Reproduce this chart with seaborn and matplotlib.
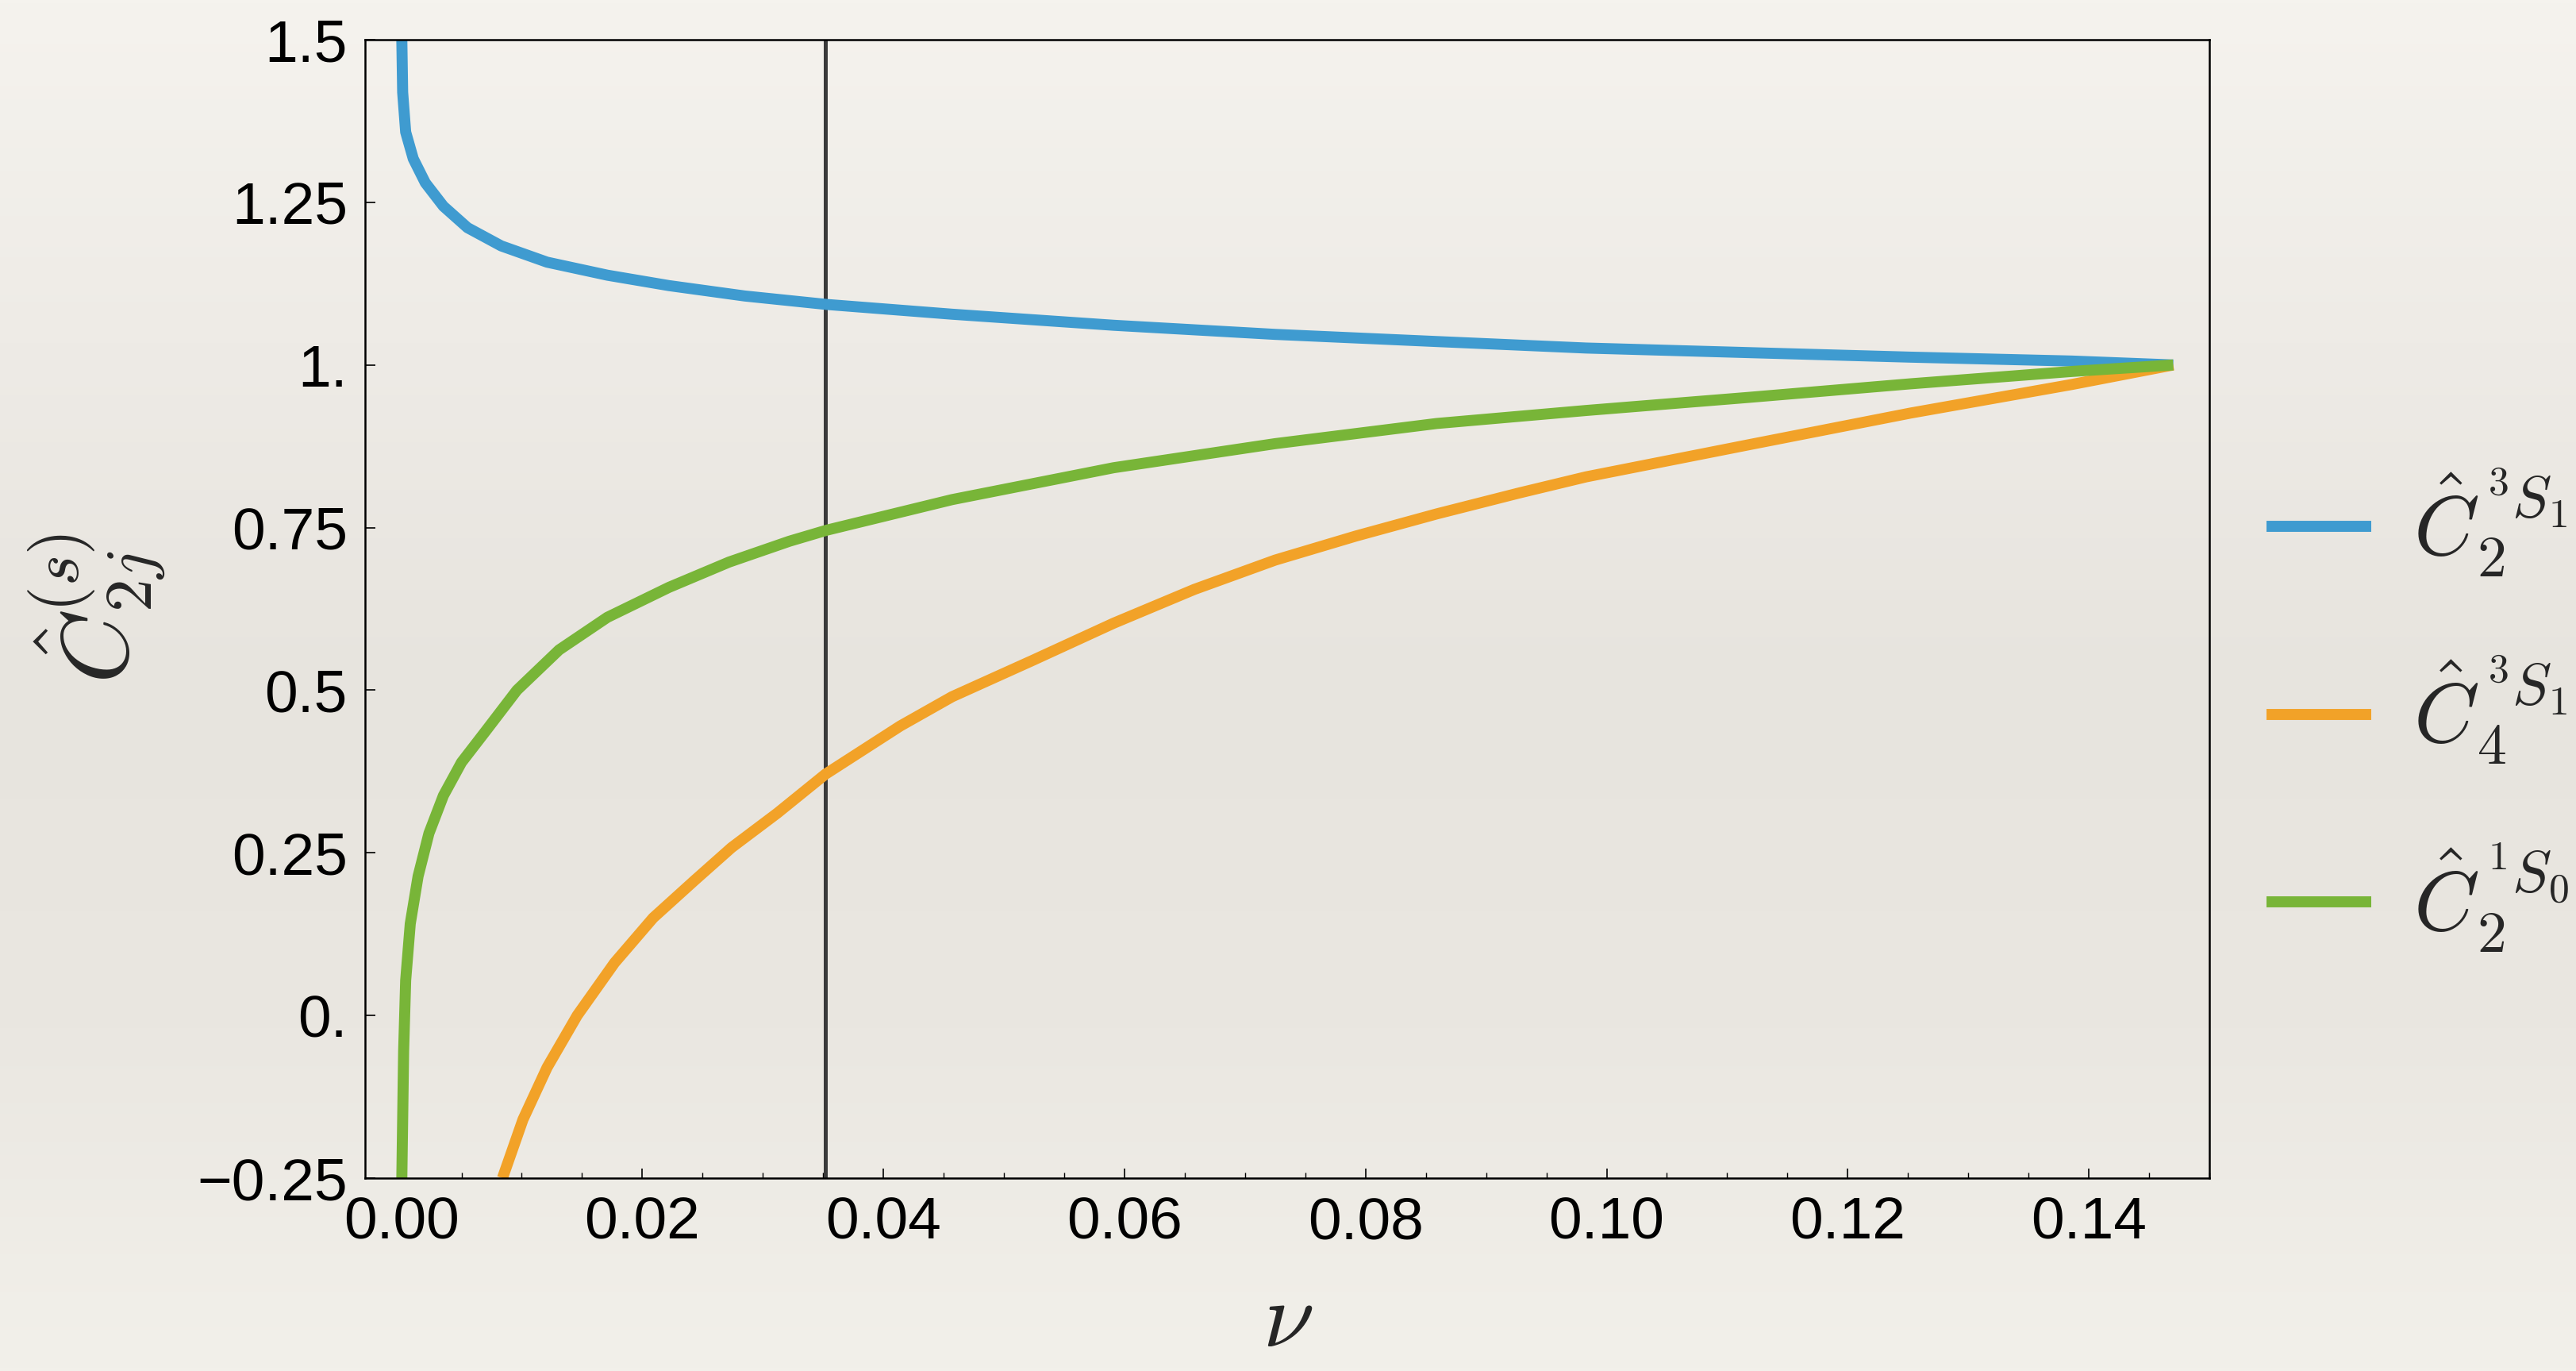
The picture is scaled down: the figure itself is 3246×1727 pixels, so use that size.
import numpy as np
import pandas as pd
import matplotlib
matplotlib.use("Agg")
import matplotlib.pyplot as plt
import seaborn as sns
from matplotlib.ticker import FixedLocator, FixedFormatter, MultipleLocator

# ---------------- data ----------------
series_names = [r"$\hat{C}_2^{\,{}^3S_1}$", r"$\hat{C}_4^{\,{}^3S_1}$", r"$\hat{C}_2^{\,{}^1S_0}$"]
series_colors = ["#3f9bd0", "#f2a228", "#78b538"]

blue_x = [0.00005, 0.00012, 0.00037, 0.0010, 0.0020, 0.0035, 0.0055, 0.0083, 0.0121, 0.0171,
          0.0222, 0.0285, 0.0353, 0.0457, 0.0591, 0.0725, 0.0859, 0.0983, 0.1117, 0.1252,
          0.1386, 0.147]
blue_y = [1.50, 1.419, 1.358, 1.317, 1.280, 1.244, 1.211, 1.183, 1.158, 1.138,
          1.122, 1.106, 1.093, 1.078, 1.061, 1.047, 1.036, 1.026, 1.019, 1.012,
          1.006, 1.0]

orange_x = [0.0084, 0.0101, 0.0121, 0.0146, 0.0177, 0.0209, 0.0243, 0.0274, 0.0312, 0.0352,
            0.0414, 0.0457, 0.0524, 0.0591, 0.0658, 0.0725, 0.0792, 0.0859, 0.0927, 0.0983,
            0.1117, 0.1252, 0.1386, 0.147]
orange_y = [-0.25, -0.160, -0.080, 0.000, 0.081, 0.150, 0.207, 0.258, 0.311, 0.371,
            0.445, 0.490, 0.546, 0.603, 0.655, 0.700, 0.737, 0.771, 0.803, 0.828,
            0.877, 0.926, 0.970, 1.0]

green_x = [0.00005, 0.0002, 0.00037, 0.00075, 0.0014, 0.0023, 0.0035, 0.0050, 0.0070, 0.0096,
           0.0131, 0.0171, 0.0222, 0.0272, 0.0322, 0.0353, 0.0457, 0.0591, 0.0725, 0.0859,
           0.0983, 0.1117, 0.1252, 0.1386, 0.147]
green_y = [-0.25, -0.055, 0.054, 0.141, 0.214, 0.280, 0.338, 0.389, 0.437, 0.500,
           0.562, 0.612, 0.658, 0.697, 0.729, 0.746, 0.793, 0.842, 0.879, 0.910,
           0.930, 0.950, 0.971, 0.990, 1.0]

vline_x = 0.0352

x_ticks = [0.00, 0.02, 0.04, 0.06, 0.08, 0.10, 0.12, 0.14]
x_ticklabels = ["0.00", "0.02", "0.04", "0.06", "0.08", "0.10", "0.12", "0.14"]
y_ticks = [-0.25, 0.0, 0.25, 0.5, 0.75, 1.0, 1.25, 1.5]
y_ticklabels = ["\u22120.25", "0.", "0.25", "0.5", "0.75", "1.", "1.25", "1.5"]

x_label = r"$\nu$"
y_label = r"$\hat{C}^{(s)}_{2j}$"

# ---------------- figure ----------------
sns.set_style("ticks")
plt.rcParams["font.family"] = ["Liberation Sans", "DejaVu Sans"]
plt.rcParams["mathtext.fontset"] = "cm"

W, H, DPI = 3246, 1727, 200
fig = plt.figure(figsize=(W / DPI, H / DPI), dpi=DPI)

# paper-like background gradient
bg = fig.add_axes([0, 0, 1, 1], zorder=-10)
stops = np.array([[245, 243, 238], [238, 235, 230], [231, 228, 222], [234, 231, 225], [242, 240, 234]]) / 255.0
t = np.linspace(0, 1, 400)
pos = np.linspace(0, 1, len(stops))
grad = np.stack([np.interp(t, pos, stops[:, c]) for c in range(3)], axis=-1)[:, None, :]
bg.imshow(grad, aspect="auto", extent=[0, 1, 0, 1], origin="upper")
bg.set_axis_off()

ax = fig.add_axes([460 / W, 1 - 1484 / H, (2784 - 460) / W, (1484 - 50) / H])
ax.patch.set_alpha(0)

df = pd.concat([
    pd.DataFrame({"nu": blue_x, "C": blue_y, "series": series_names[0]}),
    pd.DataFrame({"nu": orange_x, "C": orange_y, "series": series_names[1]}),
    pd.DataFrame({"nu": green_x, "C": green_y, "series": series_names[2]}),
], ignore_index=True)

sns.lineplot(data=df, x="nu", y="C", hue="series", hue_order=series_names,
             palette=dict(zip(series_names, series_colors)), estimator=None,
             linewidth=5.0, legend=False, ax=ax)
curve_lines = list(ax.get_lines())[:3]
for ln in curve_lines:
    ln.set_linewidth(5.0)
    ln.set_solid_capstyle("butt")
    ln.set_solid_joinstyle("round")

ax.axvline(vline_x, color="#3a3a3a", linewidth=1.8, zorder=1)

ax.set_xlim(-0.003, 0.15)
ax.set_ylim(-0.25, 1.5)

ax.xaxis.set_major_locator(FixedLocator(x_ticks))
ax.xaxis.set_major_formatter(FixedFormatter(x_ticklabels))
ax.xaxis.set_minor_locator(MultipleLocator(0.005))
ax.yaxis.set_major_locator(FixedLocator(y_ticks))
ax.yaxis.set_major_formatter(FixedFormatter(y_ticklabels))

ax.tick_params(axis="both", which="major", direction="in", length=4.5, width=0.6,
               labelsize=27, pad=8, color="black", labelcolor="black")
ax.tick_params(axis="x", which="minor", direction="in", length=2.5, width=0.5, color="black")
ax.tick_params(top=False, right=False, which="both")

for sp in ax.spines.values():
    sp.set_visible(True)
    sp.set_linewidth(0.9)
    sp.set_color("black")

ax.set_xlabel(x_label, fontsize=42)
ax.xaxis.label.set_verticalalignment("bottom")
ax.xaxis.set_label_coords((1623 - 460) / (2784 - 460), -(1720 - 1484) / (1484 - 50))

ax.set_ylabel(y_label, fontsize=43)
ax.yaxis.label.set_verticalalignment("center")
ax.yaxis.set_label_coords(-(460 - 122) / (2784 - 460), 0.5)

# legend, with row spacing tuned to the reference (rows ~236 px apart)
LEG_FS = 38
target_rows = [663.0, 899.5, 1136.0]


def make_legend(spacing, anchor_y):
    lg = ax.legend(curve_lines, series_names, loc="center left",
                   bbox_to_anchor=(2856 / W, anchor_y), bbox_transform=fig.transFigure,
                   frameon=False, fontsize=LEG_FS, handlelength=1.25, handletextpad=0.5,
                   labelspacing=spacing, borderpad=0, borderaxespad=0)
    for h in lg.get_lines():
        h.set_linewidth(5.0)
        h.set_solid_capstyle("butt")
    return lg


spacing = 0.5
anchor_y = 1 - 899.5 / H
fs_px = LEG_FS * DPI / 72.0
for _ in range(3):
    leg = make_legend(spacing, anchor_y)
    fig.canvas.draw()
    r = fig.canvas.get_renderer()
    centers = [H - 0.5 * (b.y0 + b.y1) for b in (h.get_window_extent(r) for h in leg.get_lines())]
    gap = (centers[2] - centers[0]) / 2.0
    spacing = max(0.0, spacing + (236.5 - gap) / fs_px)
    anchor_y += (centers[1] - target_rows[1]) / H
leg = make_legend(spacing, anchor_y)

fig.savefig("out.png", dpi=DPI)
